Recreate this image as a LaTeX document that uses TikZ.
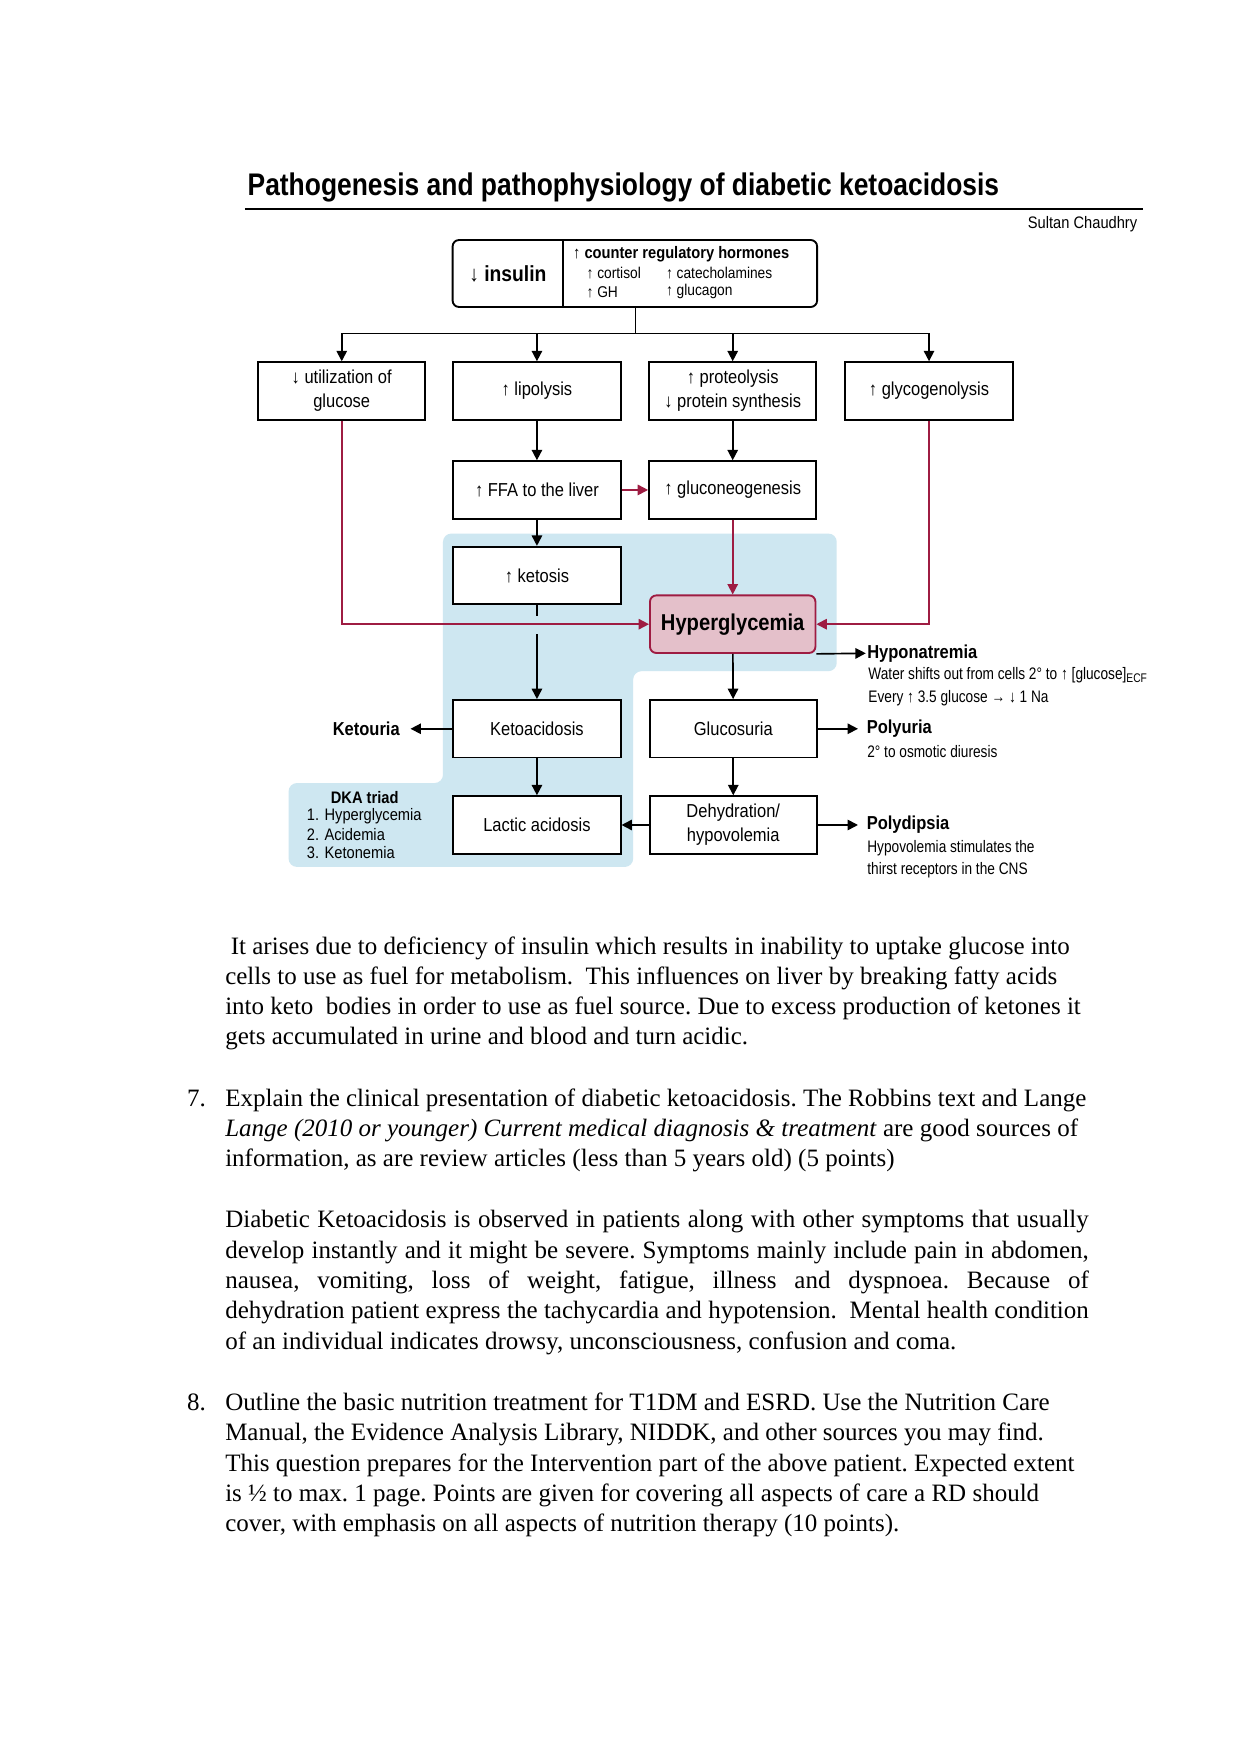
\documentclass[tikz,border=0pt]{standalone}
\usepackage{fontspec}
\setmainfont{Liberation Serif}
\newfontfamily\dfont[FakeStretch=0.88]{Liberation Sans}
\newfontfamily\nfont[FakeStretch=0.82]{Liberation Sans}
\newfontfamily\tfont[FakeStretch=0.845]{Liberation Sans}
\usetikzlibrary{arrows.meta,calc}
\definecolor{dkared}{RGB}{158,28,66}
\definecolor{dkapink}{RGB}{228,192,202}
\definecolor{dkablue}{RGB}{206,231,241}
\begin{document}
\begin{tikzpicture}[x=0.5368pt,y=-0.5368pt,
  box/.style={draw=black,line width=0.9pt,fill=white,minimum width=80.3pt,minimum height=27.6pt,inner sep=1pt,align=center,font=\dfont\fontsize{9}{11.5}\selectfont},
  arr/.style={-{Triangle[length=5pt,width=5pt]},line width=0.8pt},
  redarr/.style={-{Triangle[length=5pt,width=5pt]},line width=0.8pt,draw=dkared,color=dkared},
  lbl/.style={inner sep=0pt,font=\dfont\bfseries\fontsize{9}{11}\selectfont},
  note/.style={inner sep=0pt,anchor=west,font=\nfont\fontsize{8}{10}\selectfont},
  small/.style={inner sep=0pt,anchor=west,font=\dfont\fontsize{7.5}{9}\selectfont},
  body/.style={anchor=base west,inner sep=0pt,font=\frenchspacing\fontsize{12}{14.5}\selectfont}]
\useasboundingbox[fill=white] (0,0) rectangle (1109,1568);

% title
\node[anchor=base west,inner sep=0pt,font=\tfont\bfseries\fontsize{15}{17}\selectfont] (title) at (221,175) {Pathogenesis and pathophysiology of diabetic ketoacidosis};
\coordinate (rl) at (219,187);
\coordinate (rr) at (1022,187);
\draw[line width=0.8pt] (rl) -- (rr);
\node[anchor=east,inner sep=0pt,font=\dfont\fontsize{8}{10}\selectfont] (author) at (1017,200) {Sultan Chaudhry};

% blue region
\fill[dkablue,rounded corners=4pt] (396,477) -- (748,477) -- (748,600) -- (566,600) -- (566,775) -- (258,775) -- (258,700) -- (396,700) -- cycle;

% top box
\node[minimum width=52.6pt,minimum height=31.7pt,inner sep=0pt,font=\dfont\bfseries\fontsize{10.5}{12}\selectfont] (ins) at (454,244.5) {↓ insulin};
\node[minimum width=121.9pt,minimum height=31.7pt,inner sep=0pt] (crh) at (616.5,244.5) {};
\draw[line width=0.9pt,rounded corners=3pt] (ins.north west) rectangle (crh.south east);
\draw[line width=0.9pt] (ins.north east) -- (ins.south east);
\node[anchor=west,inner sep=0pt,font=\dfont\bfseries\fontsize{8}{10}\selectfont] (crh1) at (512,227) {↑ counter regulatory hormones};
\node[small] (crh2) at (524,244) {↑ cortisol};
\node[small] (crh3) at (595,244) {↑ catecholamines};
\node[small] (crh4) at (524,261) {↑ GH};
\node[small] (crh5) at (595,261) {↑ glucagon};

% row 1
\node[box] (util) at (305.5,349.5) {↓ utilization of\\glucose};
\node[box] (lipo) at (480,349.5) {↑ lipolysis};
\node[box] (prot) at (655,349.5) {↑ proteolysis\\↓ protein synthesis};
\node[box] (glyc) at (830.5,349.5) {↑ glycogenolysis};
% row 2
\node[box] (ffa) at (480,438) {↑ FFA to the liver};
\node[box] (gneo) at (655,438) {↑ gluconeogenesis};
\node[box] (ketosis) at (480,514.5) {↑ ketosis};
\node[box,fill=dkapink,draw=dkared,rounded corners=3pt,minimum width=79.4pt,font=\dfont\bfseries\fontsize{11}{13}\selectfont] (hyper) at (655,558) {Hyperglycemia};
\node[box] (ketoacid) at (480,651.5) {Ketoacidosis};
\node[box] (gluco) at (655.5,651.5) {Glucosuria};
\node[box] (lactic) at (480,737.5) {Lactic acidosis};
\node[box] (dehyd) at (655.5,737.5) {Dehydration/\\hypovolemia};

% splitting connector
\coordinate (topout) at (568,274);
\coordinate (split) at (568,298);
\draw[line width=0.8pt] (topout) -- (split);
\draw[line width=0.8pt] (util.north |- split) -- (glyc.north |- split);
\draw[arr] (util.north |- split) -- (util.north);
\draw[arr] (lipo.north |- split) -- (lipo.north);
\draw[arr] (prot.north |- split) -- (prot.north);
\draw[arr] (glyc.north |- split) -- (glyc.north);

\draw[arr] (lipo) -- (ffa);
\draw[arr] (prot) -- (gneo);
\draw[redarr] (ffa) -- (gneo);
\draw[arr] (ffa) -- (ketosis);
\draw[redarr] (gneo) -- (hyper);
\draw[redarr] (util.south) |- (hyper.west);
\draw[redarr] (glyc.south) |- (hyper.east);
\draw[line width=0.8pt] (ketosis.south) -- ++(0,10);
\draw[arr] ($(ketosis.south)+(0,26)$) -- (ketoacid.north);
\draw[arr] (hyper) -- (gluco);
\draw[arr] (ketoacid) -- (lactic);
\draw[arr] (gluco) -- (dehyd);
\draw[arr] (dehyd) -- (lactic);

% side labels
\node[lbl,anchor=west,inner xsep=0.5pt] (hypona) at (774,584) {Hyponatremia};
\draw[arr] (hyper.south east) -- (hypona.west);
\node[note] (hn1) at (776,604) {Water shifts out from cells 2° to ↑ [glucose]\textsubscript{ECF}};
\node[note] (hn2) at (776,624) {Every ↑ 3.5 glucose → ↓ 1 Na};

\node[lbl,anchor=west,inner xsep=4pt] (polyuria) at (767,651.5) {Polyuria};
\draw[arr] (gluco) -- (polyuria);
\node[note] (pu1) at (775,672) {2° to osmotic diuresis};

\node[lbl,anchor=west,inner xsep=4pt] (polydip) at (767,737.5) {Polydipsia};
\draw[arr] (dehyd) -- (polydip);
\node[note] (pd1) at (775,758) {Hypovolemia stimulates the};
\node[note] (pd2) at (775,778) {thirst receptors in the CNS};

\node[lbl,anchor=east,inner xsep=5pt] (ketouria) at (367,651.5) {Ketouria};
\draw[arr] (ketoacid) -- (ketouria);

% DKA triad
\node[inner sep=0pt,font=\dfont\bfseries\fontsize{8}{10}\selectfont] (triad) at (326,713) {DKA triad};
\node[small,font=\dfont\fontsize{8}{10}\selectfont] (tr1) at (274,730) {1. Hyperglycemia};
\node[small,font=\dfont\fontsize{8}{10}\selectfont] (tr2) at (274,746) {2. Acidemia};
\node[small,font=\dfont\fontsize{8}{10}\selectfont] (tr3) at (274,762) {3. Ketonemia};

% body text
\node[body] (p1a) at (206,853) {It arises due to deficiency of insulin which results in inability to uptake glucose into};
\node[body] (p1b) at (201,880) {cells to use as fuel for metabolism.\ \ This influences on liver by breaking fatty acids};
\node[body] (p1c) at (201,907) {into keto\ \ bodies in order to use as fuel source. Due to excess production of ketones it};
\node[body] (p1d) at (201,934) {gets accumulated in urine and blood and turn acidic.};

\node[body] (q7n) at (167,989) {7.};
\node[body] (q7a) at (201,989) {Explain the clinical presentation of diabetic ketoacidosis. The Robbins text and Lange};
\node[body] (q7b) at (201,1016) {\textit{Lange (2010 or younger) Current medical diagnosis \& treatment} are good sources of};
\node[body] (q7c) at (201,1043) {information, as are review articles (less than 5 years old) (5 points)};

\node[body] (p2a) at (201,1097) {\hbox to 414.4pt{Diabetic Ketoacidosis is observed in patients along with other symptoms that usually}};
\node[body] (p2b) at (201,1125) {\hbox to 414.4pt{develop instantly and it might be severe. Symptoms mainly include pain in abdomen,}};
\node[body] (p2c) at (201,1152) {\hbox to 414.4pt{nausea, vomiting, loss of weight, fatigue, illness and dyspnoea. Because of}};
\node[body] (p2d) at (201,1179) {\hbox to 414.4pt{dehydration patient express the tachycardia and hypotension.\ \ Mental health condition}};
\node[body] (p2e) at (201,1206) {of an individual indicates drowsy, unconsciousness, confusion and coma.};

\node[body] (q8n) at (167,1261) {8.};
\node[body] (q8a) at (201,1261) {Outline the basic nutrition treatment for T1DM and ESRD. Use the Nutrition Care};
\node[body] (q8b) at (201,1288) {Manual, the Evidence Analysis Library, NIDDK, and other sources you may find.};
\node[body] (q8c) at (201,1315) {This question prepares for the Intervention part of the above patient. Expected extent};
\node[body] (q8d) at (201,1342) {is ½ to max. 1 page. Points are given for covering all aspects of care a RD should};
\node[body] (q8e) at (201,1369) {cover, with emphasis on all aspects of nutrition therapy (10 points).};
\end{tikzpicture}
\end{document}
